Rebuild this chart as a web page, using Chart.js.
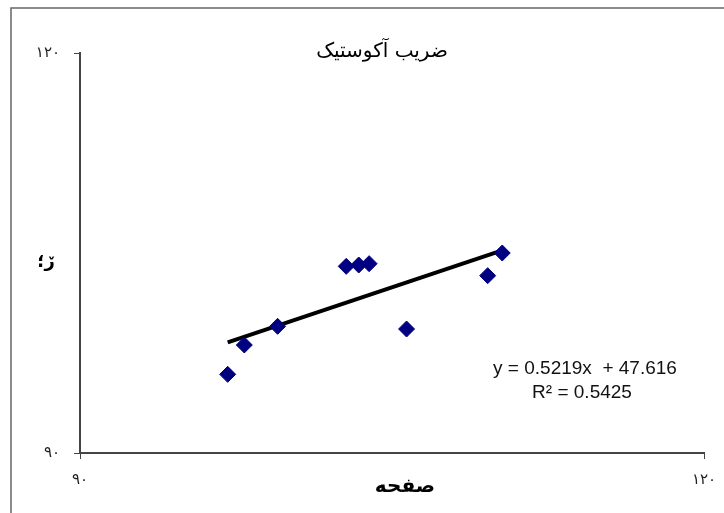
<!DOCTYPE html>
<html>
<head>
<meta charset="utf-8">
<script src="https://cdn.jsdelivr.net/npm/chart.js@4/dist/chart.umd.min.js"></script>
<style>
  html, body { margin: 0; padding: 0; background: #fff; }
  #wrap { width: 724px; height: 513px; }
</style>
</head>
<body>
<div id="wrap"><canvas id="myChart"></canvas></div>
<script>
// values
const pointsX = [97.1, 97.9, 99.5, 102.8, 103.4, 103.9, 105.7, 109.6, 110.3];
const pointsY = [95.9, 98.1, 99.5, 104.0, 104.1, 104.2, 99.3, 103.3, 105.0];
const trendX = [97.1, 110.3];
const trendY = [98.3, 105.2];
const tickValues = [90, 120];
const chartTitle = 'ضریب آکوستیک';
const xTitle = 'صفحه';
const yTitle = 'ڒ؛';
const equationLines = ['y = 0.5219x  + 47.616', 'R² = 0.5425'];

const persianDigits = ['۰','۱','۲','۳','۴','۵','۶','۷','۸','۹'];
function toPersian(v) {
    return String(v).replace(/[0-9]/g, d => persianDigits[d]);
}

const scatterData = pointsX.map((x, i) => ({ x: x, y: pointsY[i] }));
const trendData = trendX.map((x, i) => ({ x: x, y: trendY[i] }));

// title, equation, frame and axis labels drawn on top
const extras = {
    id: 'extras',
    afterDraw(chart) {
        const ctx = chart.ctx;
        ctx.save();
        ctx.strokeStyle = '#666';
        ctx.lineWidth = 1.5;
        ctx.beginPath();
        ctx.moveTo(11, 520);
        ctx.lineTo(11, 8);
        ctx.lineTo(730, 8);
        ctx.stroke();

        ctx.fillStyle = '#000';
        ctx.textAlign = 'center';
        ctx.textBaseline = 'middle';
        ctx.font = '20px "DejaVu Sans", sans-serif';
        ctx.fillText(chartTitle, 382, 52);

        ctx.font = 'bold 20px "DejaVu Sans", sans-serif';
        ctx.fillText(xTitle, 405, 487);

        ctx.font = 'bold 18px "DejaVu Sans", sans-serif';
        ctx.fillText(yTitle, 46, 262);

        ctx.font = '19px "Liberation Sans", Arial, sans-serif';
        ctx.fillStyle = '#111';
        ctx.fillText(equationLines[0], 585, 369);
        ctx.fillText(equationLines[1], 582, 393);
        ctx.restore();
    }
};

const ctx = document.getElementById('myChart').getContext('2d');
window.myChart = new Chart(ctx, {
    type: 'scatter',
    data: {
        datasets: [{
            label: 'points',
            data: scatterData,
            pointStyle: 'rectRot',
            pointRadius: 8,
            pointBackgroundColor: '#000080',
            pointBorderColor: '#000080',
            showLine: false
        }, {
            label: 'trend',
            data: trendData,
            showLine: true,
            borderColor: '#000',
            borderWidth: 4,
            pointRadius: 0
        }]
    },
    options: {
        responsive: true,
        maintainAspectRatio: false,
        animation: false,
        layout: { padding: { top: 53, right: 20, left: 0, bottom: 0 } },
        plugins: {
            legend: { display: false },
            tooltip: { enabled: false }
        },
        scales: {
            x: {
                type: 'linear',
                min: 90,
                max: 120,
                afterBuildTicks: s => { s.ticks = tickValues.map(v => ({ value: v })); },
                afterFit: s => { s.height = 60; s.paddingRight = 0; s.paddingLeft = 0; },
                border: { display: true, color: '#444', width: 2 },
                grid: { drawOnChartArea: false, drawTicks: true, tickLength: 6, color: '#444' },
                ticks: {
                    padding: 12,
                    maxRotation: 0,
                    color: '#222',
                    font: { family: '"DejaVu Sans", sans-serif', size: 15 },
                    callback: v => toPersian(v)
                }
            },
            y: {
                type: 'linear',
                min: 90,
                max: 120,
                afterBuildTicks: s => { s.ticks = tickValues.map(v => ({ value: v })); },
                afterFit: s => { s.width = 80; },
                border: { display: true, color: '#444', width: 2 },
                grid: { drawOnChartArea: false, drawTicks: true, tickLength: 6, color: '#444' },
                ticks: {
                    padding: 14,
                    color: '#222',
                    font: { family: '"DejaVu Sans", sans-serif', size: 15 },
                    callback: v => toPersian(v)
                }
            }
        }
    },
    plugins: [extras]
});
</script>
</body>
</html>
